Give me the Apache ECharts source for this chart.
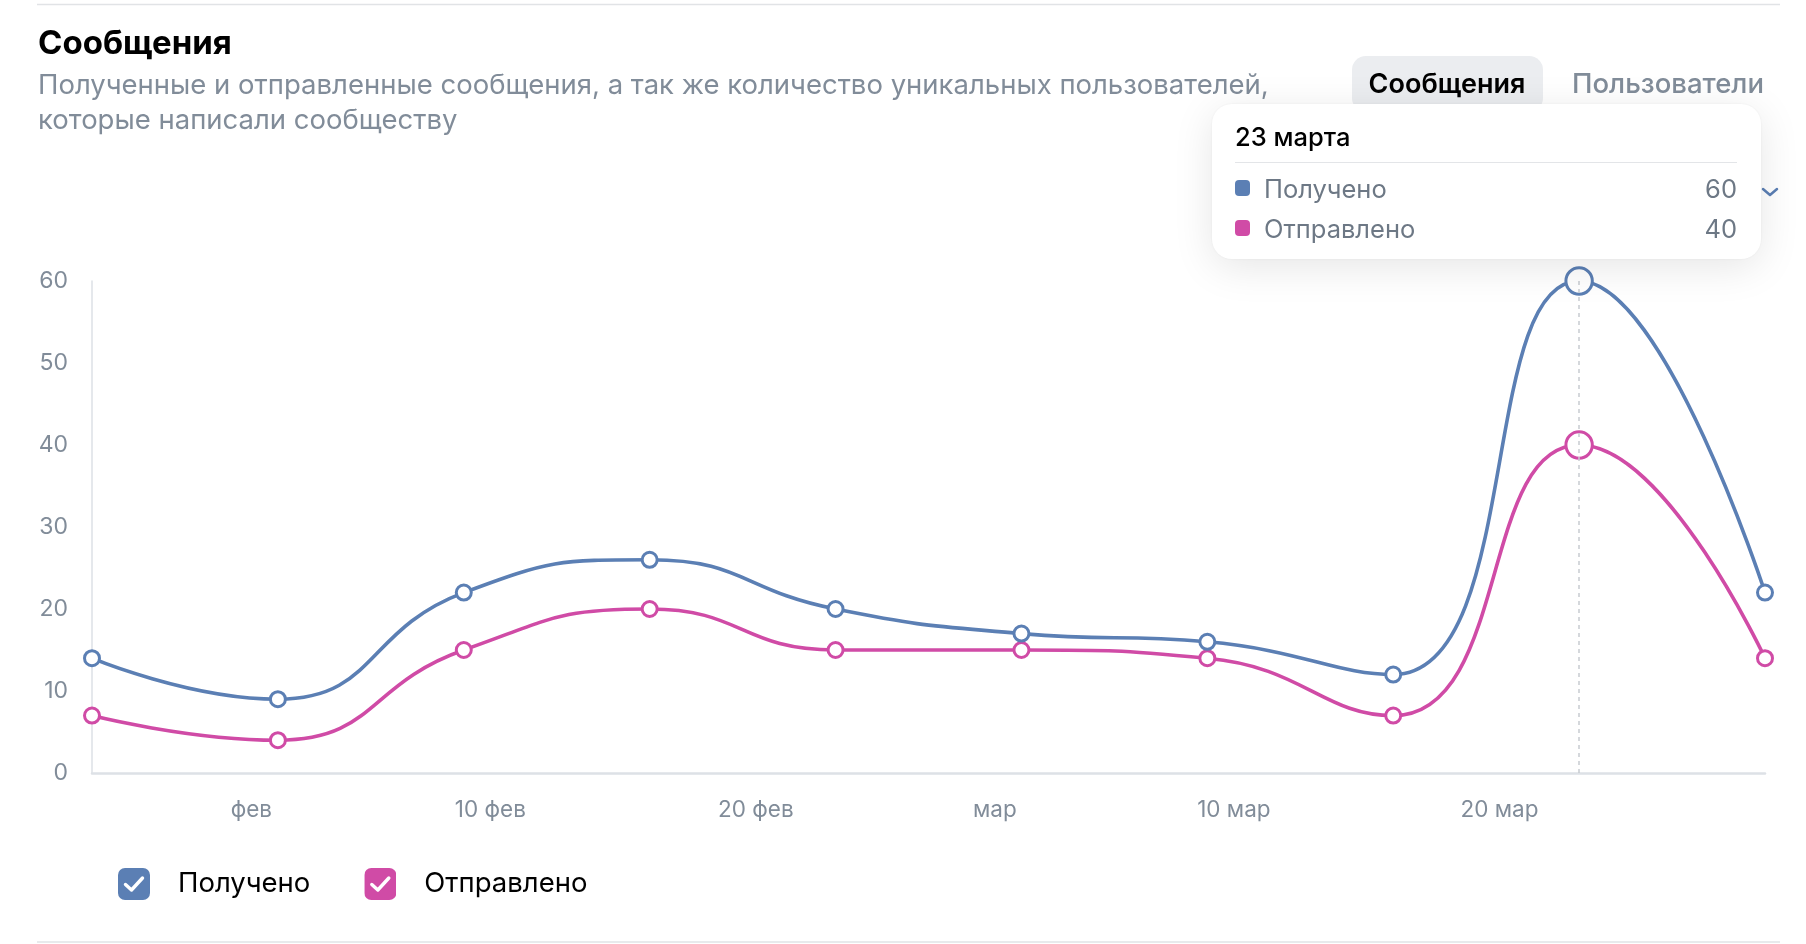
<!DOCTYPE html>
<html>
<head>
<meta charset="utf-8">
<title>Сообщения</title>
<script src="https://cdn.jsdelivr.net/npm/echarts@6/dist/echarts.min.js"></script>
<style>
    html, body { margin: 0; padding: 0; background: #fff; }
    #main { width: 1806px; height: 944px; }
</style>
</head>
<body>
<div id="main"></div>
<script>
// weekly points
var dates = ['2021-01-26', '2021-02-02', '2021-02-09', '2021-02-16', '2021-02-23',
             '2021-03-02', '2021-03-09', '2021-03-16', '2021-03-23', '2021-03-30'];
var received = [14, 9, 22, 26, 20, 17, 16, 12, 60, 22];
var sent = [7, 4, 15, 20, 15, 15, 14, 7, 40, 14];

var tickDates = ['2021-02-01', '2021-02-10', '2021-02-20', '2021-03-01', '2021-03-10', '2021-03-20'];
var tickLabels = ['фев', '10 фев', '20 фев', 'мар', '10 мар', '20 мар'];

var seriesNames = ['Получено', 'Отправлено'];
var colors = ['#5b7fb4', '#d04ba6'];
var monthsGen = ['января', 'февраля', 'марта', 'апреля', 'мая', 'июня',
                 'июля', 'августа', 'сентября', 'октября', 'ноября', 'декабря'];
var hoverIndex = 8;

var FONT = 'Inter, "Noto Sans", sans-serif';

function toTime(s) {
    var p = s.split('-');
    return new Date(+p[0], +p[1] - 1, +p[2]).getTime();
}

function pairs(values) {
    return values.map(function (v, i) { return [toTime(dates[i]), v]; });
}

// rounded square with a white tick, like a checkbox
function checkIcon(color) {
    var svg = '<svg xmlns="http://www.w3.org/2000/svg" width="64" height="64" viewBox="0 0 32 32">' +
        '<rect width="32" height="32" rx="7" fill="' + color + '"/>' +
        '<path d="M7.5 16.5l6 5.5 11-12" fill="none" stroke="#fff" stroke-width="3.4" ' +
        'stroke-linecap="round" stroke-linejoin="round"/></svg>';
    return 'image://data:image/svg+xml;charset=utf-8,' + encodeURIComponent(svg);
}

var tickTimes = tickDates.map(toTime);

var myChart = echarts.init(document.getElementById('main'));

var option = {
    animation: false,
    textStyle: { fontFamily: FONT },
    title: {
        left: 38,
        top: 24,
        padding: 0,
        text: 'Сообщения',
        subtext: 'Полученные и отправленные сообщения, а так же количество уникальных пользователей,\nкоторые написали сообществу',
        itemGap: 4,
        textStyle: { fontFamily: FONT, fontSize: 33, fontWeight: 'bold', color: '#000', lineHeight: 40 },
        subtextStyle: { fontFamily: FONT, fontSize: 27.5, color: '#818c99', lineHeight: 35 }
    },
    legend: {
        left: 118,
        top: 868,
        padding: 0,
        itemWidth: 32,
        itemHeight: 32,
        itemGap: 54,
        data: [
            { name: seriesNames[0], icon: checkIcon(colors[0]) },
            { name: seriesNames[1], icon: checkIcon(colors[1]) }
        ],
        textStyle: { fontFamily: FONT, fontSize: 27.5, color: '#000', padding: [0, 0, 0, 23] }
    },
    tooltip: {
        trigger: 'axis',
        alwaysShowContent: true,
        transitionDuration: 0,
        position: [1212, 104],
        padding: [20, 24, 11, 23],
        borderWidth: 0,
        backgroundColor: '#fff',
        extraCssText: 'box-sizing:content-box;width:502px;border-radius:20px;' +
            'box-shadow:0 8px 40px rgba(0,0,0,0.10),0 0 3px rgba(0,0,0,0.06);',
        axisPointer: {
            type: 'line',
            lineStyle: { color: '#c8ccd1', width: 1.5, type: [4, 4] },
            label: { show: false }
        },
        formatter: function (params) {
            var d = new Date(params[0].value[0]);
            var html = '<div style="font-family:' + FONT.replace(/"/g, '\'') + ';">';
            html += '<div style="font-size:25.5px;font-weight:500;color:#000;line-height:26px;">' +
                d.getDate() + ' ' + monthsGen[d.getMonth()] + '</div>';
            html += '<div style="height:0;border-top:1.5px solid #e3e5e8;margin-top:12px;"></div>';
            html += '<div style="margin-top:5px;">';
            params.forEach(function (p) {
                html += '<div style="display:flex;align-items:center;height:40px;font-size:25.5px;color:#6d7885;">' +
                    '<span style="display:inline-block;width:15px;height:16px;border-radius:4px;margin-right:14px;background:' +
                    colors[p.seriesIndex] + ';"></span>' +
                    '<span style="flex:1;">' + p.seriesName + '</span>' +
                    '<span>' + p.value[1] + '</span></div>';
            });
            html += '</div></div>';
            return html;
        }
    },
    grid: {
        left: 92,
        right: 41,
        top: 281,
        bottom: 171
    },
    xAxis: {
        type: 'value',
        min: toTime(dates[0]),
        max: toTime(dates[dates.length - 1]),
        splitLine: { show: false },
        axisTick: { show: false },
        axisLine: { lineStyle: { color: '#dde1e6', width: 2.5 } },
        axisLabel: {
            customValues: tickTimes,
            margin: 26,
            fontSize: 22.5,
            fontFamily: FONT,
            color: '#818c99',
            formatter: function (val) {
                var i = tickTimes.indexOf(val);
                return i >= 0 ? tickLabels[i] : '';
            }
        }
    },
    yAxis: {
        type: 'value',
        min: 0,
        max: 60,
        interval: 10,
        splitLine: { show: false },
        axisTick: { show: false },
        axisLine: { show: true, lineStyle: { color: '#dde1e6', width: 1.5 } },
        axisLabel: { margin: 24, fontSize: 23, fontFamily: FONT, color: '#818c99' }
    },
    series: [received, sent].map(function (values, k) {
        return {
            name: seriesNames[k],
            type: 'line',
            smooth: true,
            symbol: 'circle',
            symbolSize: function (val, params) {
                return params.dataIndex === hoverIndex ? 24 : 15;
            },
            lineStyle: { color: colors[k], width: 3.6 },
            itemStyle: { color: '#fff', borderColor: colors[k], borderWidth: 3 },
            emphasis: { disabled: true },
            z: 3 - k,
            data: pairs(values)
        };
    }),
    graphic: [
        { type: 'line', shape: { x1: 37, y1: 4.5, x2: 1780, y2: 4.5 }, style: { stroke: '#e1e3e6', lineWidth: 1.5 } },
        { type: 'line', shape: { x1: 37, y1: 942, x2: 1780, y2: 942 }, style: { stroke: '#e1e3e6', lineWidth: 1.5 } },
        { type: 'rect', shape: { x: 1352, y: 56, width: 191, height: 56, r: 14 }, style: { fill: '#ebedf0' } },
        {
            type: 'text', x: 1447, y: 85,
            style: { text: 'Сообщения', fontFamily: FONT, fontSize: 27, fontWeight: 600, fill: '#000', align: 'center', verticalAlign: 'middle' }
        },
        {
            type: 'text', x: 1572, y: 85,
            style: { text: 'Пользователи', fontFamily: FONT, fontSize: 27.5, fontWeight: 500, fill: '#818c99', align: 'left', verticalAlign: 'middle' }
        },
        {
            type: 'polyline', shape: { points: [[1763, 189], [1770, 195], [1777, 189]] },
            style: { stroke: '#5b7fb4', lineWidth: 2.5, fill: null, lineCap: 'round', lineJoin: 'round' }
        }
    ]
};
myChart.setOption(option);

myChart.dispatchAction({ type: 'showTip', seriesIndex: 0, dataIndex: hoverIndex });
</script>
</body>
</html>
